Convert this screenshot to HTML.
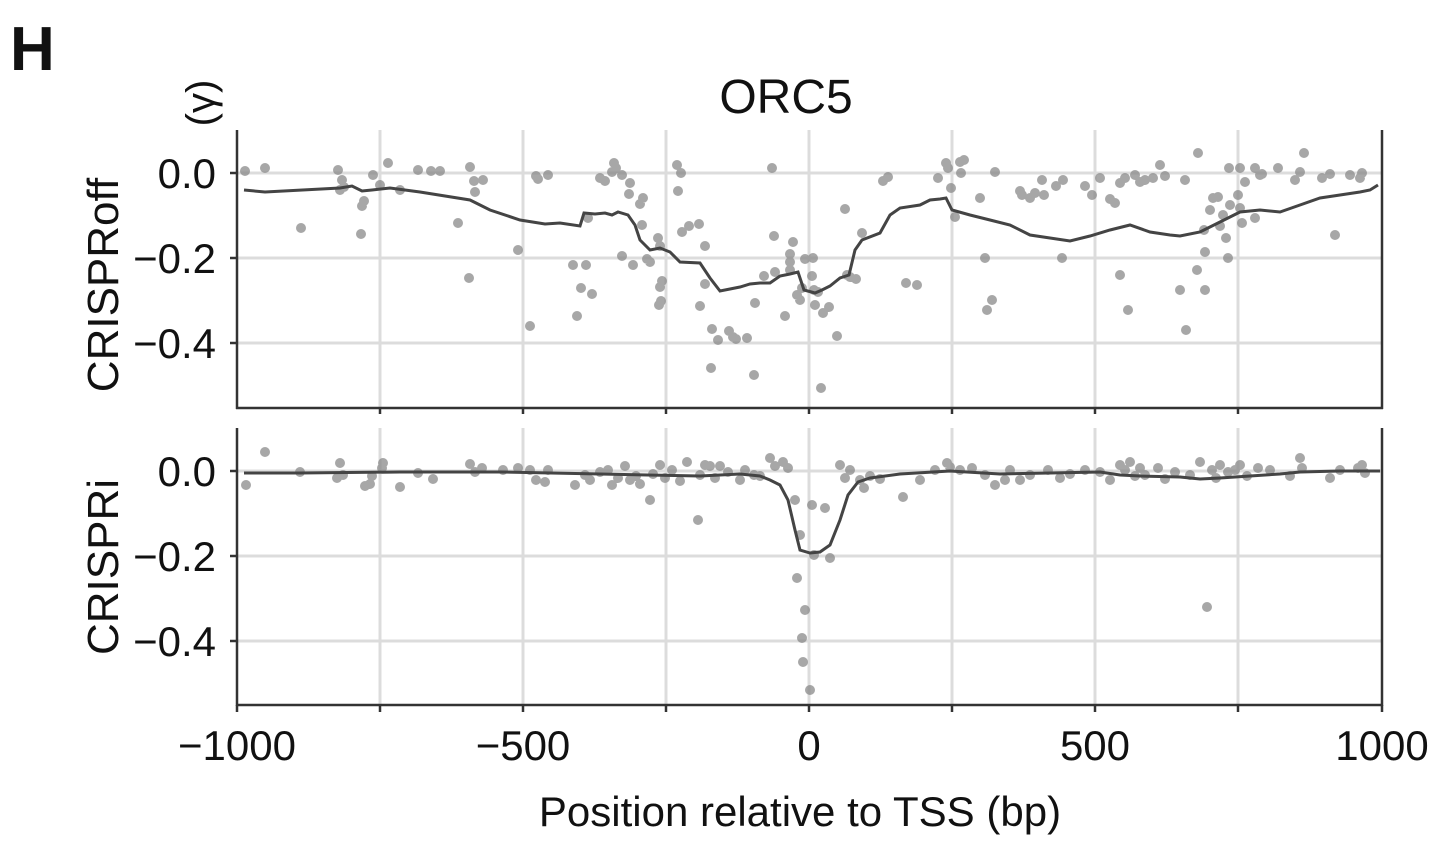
<!DOCTYPE html>
<html><head><meta charset="utf-8"><style>
html,body{margin:0;padding:0;background:#fff;}
svg{display:block;font-family:"Liberation Sans",Arial,sans-serif;}
</style></head><body>
<svg width="1452" height="856" viewBox="0 0 1452 856">
<text x="10" y="70" font-size="62" font-weight="bold" fill="#111">H</text>
<text x="786" y="113" font-size="48" text-anchor="middle" fill="#111">ORC5</text>
<text transform="translate(214,103) rotate(-90)" font-size="40" text-anchor="middle" fill="#111">(γ)</text>
<text transform="translate(118,285) rotate(-90)" font-size="44" text-anchor="middle" fill="#111">CRISPRoff</text>
<text transform="translate(118,567) rotate(-90)" font-size="44" text-anchor="middle" fill="#111">CRISPRi</text>
<text x="800" y="826" font-size="42" text-anchor="middle" fill="#111">Position relative to TSS (bp)</text>
<g stroke="#dcdcdc" stroke-width="3">
<line x1="237" x2="1382" y1="173" y2="173"/><line x1="237" x2="1382" y1="258" y2="258"/><line x1="237" x2="1382" y1="343" y2="343"/>
<line x1="237" x2="1382" y1="471" y2="471"/><line x1="237" x2="1382" y1="556" y2="556"/><line x1="237" x2="1382" y1="641" y2="641"/>
<path d="M380 130V408M523 130V408M666 130V408M809 130V408M952 130V408M1095 130V408M1238 130V408M380 428V705M523 428V705M666 428V705M809 428V705M952 428V705M1095 428V705M1238 428V705"/>
</g>
<path fill="none" stroke="#8a8a8a" stroke-opacity="0.75" stroke-width="10" stroke-linecap="round" d="M245 171h0M265 168h0M301 228h0M338 170h0M342 180h0M344 187h0M340 190h0M362 206h0M364 201h0M361 234h0M373 175h0M380 185h0M388 163h0M400 190h0M418 170h0M431 171h0M440 171h0M458 223h0M470 167h0M474 181h0M475 192h0M469 278h0M483 180h0M518 250h0M530 326h0M536 176h0M538 179h0M548 175h0M573 265h0M577 316h0M581 288h0M586 265h0M588 218h0M592 294h0M600 178h0M605 181h0M612 172h0M614 163h0M616 168h0M622 175h0M630 183h0M629 194h0M640 204h0M642 225h0M643 198h0M647 259h0M633 265h0M622 256h0M650 262h0M658 238h0M660 287h0M661 301h0M659 305h0M662 281h0M660 246h0M677 165h0M678 191h0M681 173h0M682 232h0M689 226h0M699 224h0M700 306h0M705 246h0M705 284h0M711 368h0M712 329h0M718 340h0M729 331h0M733 337h0M736 339h0M747 338h0M754 375h0M755 303h0M764 276h0M772 168h0M774 236h0M775 272h0M785 316h0M790 262h0M793 242h0M790 254h0M790 270h0M797 295h0M802 288h0M800 300h0M805 259h0M812 276h0M814 290h0M813 258h0M818 292h0M815 305h0M821 388h0M823 313h0M829 307h0M837 336h0M845 209h0M847 275h0M850 277h0M856 279h0M862 233h0M883 181h0M888 177h0M906 283h0M917 285h0M938 178h0M946 163h0M948 168h0M960 162h0M961 173h0M964 160h0M951 188h0M955 217h0M980 198h0M987 310h0M992 300h0M985 258h0M995 172h0M1020 191h0M1022 195h0M1035 193h0M1044 195h0M1042 180h0M1062 258h0M1063 180h0M1030 198h0M1056 186h0M1085 186h0M1092 195h0M1100 178h0M1115 203h0M1120 183h0M1120 275h0M1125 178h0M1128 310h0M1110 199h0M1135 175h0M1140 182h0M1145 180h0M1153 178h0M1160 165h0M1165 176h0M1180 290h0M1185 180h0M1198 153h0M1204 230h0M1210 210h0M1213 198h0M1218 197h0M1220 226h0M1223 215h0M1226 238h0M1228 258h0M1230 205h0M1238 195h0M1240 208h0M1242 223h0M1245 182h0M1205 252h0M1205 290h0M1186 330h0M1197 270h0M1229 168h0M1240 168h0M1255 168h0M1262 174h0M1278 168h0M1295 180h0M1300 172h0M1304 153h0M1322 178h0M1330 174h0M1350 175h0M1335 235h0M1360 178h0M1362 173h0M1255 218h0M1260 175h0
M246 485h0M265 452h0M300 472h0M340 463h0M343 475h0M337 478h0M365 486h0M370 484h0M372 476h0M382 468h0M383 463h0M400 487h0M418 473h0M433 479h0M470 464h0M475 472h0M482 468h0M503 470h0M518 468h0M530 470h0M536 480h0M545 482h0M548 470h0M575 485h0M585 475h0M590 480h0M600 472h0M608 470h0M612 485h0M618 478h0M625 466h0M630 480h0M636 476h0M640 484h0M650 500h0M653 474h0M660 465h0M665 478h0M672 470h0M680 481h0M687 462h0M698 520h0M700 475h0M705 465h0M710 466h0M715 478h0M720 466h0M728 472h0M740 480h0M745 470h0M754 475h0M760 476h0M770 458h0M775 466h0M783 462h0M788 468h0M795 500h0M797 578h0M805 610h0M802 638h0M803 662h0M810 690h0M812 505h0M825 508h0M830 558h0M814 555h0M800 535h0M840 465h0M845 478h0M850 470h0M860 480h0M864 488h0M870 476h0M880 479h0M903 497h0M920 480h0M935 470h0M947 463h0M950 467h0M960 470h0M972 468h0M985 475h0M995 485h0M1005 480h0M1010 470h0M1020 480h0M1030 475h0M1048 470h0M1060 478h0M1070 474h0M1085 470h0M1100 472h0M1110 480h0M1120 465h0M1125 470h0M1130 462h0M1135 476h0M1140 468h0M1145 475h0M1158 468h0M1165 479h0M1175 472h0M1190 475h0M1200 462h0M1207 607h0M1212 470h0M1216 478h0M1220 465h0M1228 472h0M1235 470h0M1240 465h0M1247 476h0M1258 468h0M1270 470h0M1290 476h0M1300 458h0M1302 468h0M1330 478h0M1340 470h0M1358 468h0M1362 465h0M1365 473h0"/>
<polyline fill="none" stroke="#444" stroke-width="3" points="244,190 265,192 340,188 352,186 362,191 372,190 390,188 420,192 470,200 490,210 520,220 545,224 560,223 580,226 584,213 595,214 605,213 612,215 618,212 628,215 635,225 640,240 650,250 660,248 670,252 680,262 700,263 710,278 720,291 730,289 740,287 750,284 760,283 770,283 780,276 790,274 798,272 804,290 815,293 822,290 830,286 840,278 849,275 855,250 862,240 880,233 890,215 900,208 920,205 930,200 940,199 946,198 952,210 970,215 990,220 1010,225 1030,235 1050,238 1070,241 1090,236 1110,230 1130,225 1150,232 1170,235 1180,236 1200,232 1220,222 1240,212 1260,210 1280,212 1300,205 1320,198 1340,195 1360,192 1370,190 1378,185"/>
<polyline fill="none" stroke="#444" stroke-width="3" points="244,473 300,473 400,472 500,472 600,474 700,476 740,474 760,476 770,480 780,485 788,500 795,530 800,550 810,553 820,552 830,545 840,520 848,495 858,482 870,478 900,474 950,471 1000,474 1050,473 1100,472 1120,475 1140,476 1180,477 1200,479 1220,478 1250,476 1280,474 1300,472 1340,471 1380,471"/>
<g stroke="#333" stroke-width="2.5" fill="none">
<path d="M237 130V409M1382 130V409M236 408H1383M237 428V706M1382 428V706M236 705H1383"/>
<path d="M230 173H237M230 258H237M230 343H237M230 471H237M230 556H237M230 641H237"/>
<path d="M380 408v6M523 408v6M666 408v6M809 408v6M952 408v6M1095 408v6M1238 408v6M237 705v7M380 705v7M523 705v7M666 705v7M809 705v7M952 705v7M1095 705v7M1238 705v7M1382 705v7"/>
</g>
<g font-size="42" fill="#111" text-anchor="end">
<text x="216" y="188">0.0</text><text x="216" y="273">−0.2</text><text x="216" y="358">−0.4</text>
<text x="216" y="486">0.0</text><text x="216" y="571">−0.2</text><text x="216" y="656">−0.4</text>
</g>
<g font-size="42" fill="#111" text-anchor="middle">
<text x="237" y="760">−1000</text><text x="523" y="760">−500</text><text x="809" y="760">0</text><text x="1095" y="760">500</text><text x="1382" y="760">1000</text>
</g>
</svg>
</body></html>
